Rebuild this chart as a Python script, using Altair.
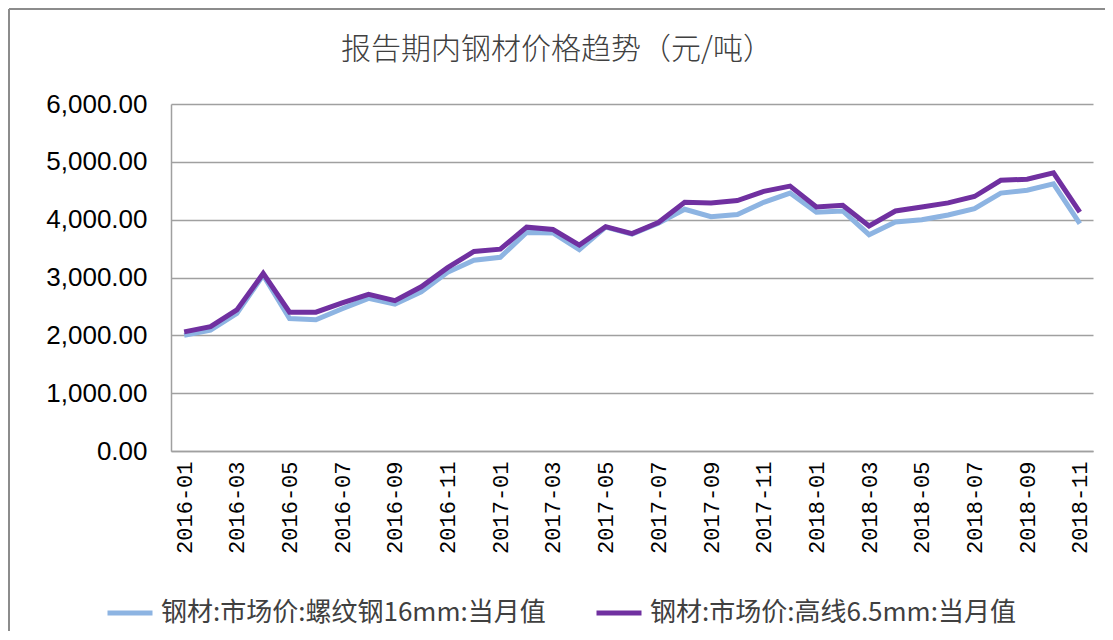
import altair as alt
import pandas as pd

months = [
    "2016-01", "2016-02", "2016-03", "2016-04", "2016-05", "2016-06", "2016-07", "2016-08", "2016-09", "2016-10", "2016-11", "2016-12",
    "2017-01", "2017-02", "2017-03", "2017-04", "2017-05", "2017-06", "2017-07", "2017-08", "2017-09", "2017-10", "2017-11", "2017-12",
    "2018-01", "2018-02", "2018-03", "2018-04", "2018-05", "2018-06", "2018-07", "2018-08", "2018-09", "2018-10", "2018-11",
]
rebar = [
    2000, 2090, 2380, 3040, 2290, 2270, 2460, 2640, 2540, 2750, 3090, 3300,
    3350, 3780, 3770, 3480, 3870, 3750, 3940, 4180, 4050, 4090, 4300, 4460,
    4130, 4150, 3740, 3960, 4000, 4080, 4190, 4460, 4510, 4620, 3930,
]
wire = [
    2060, 2150, 2440, 3070, 2400, 2400, 2560, 2710, 2600, 2840, 3170, 3450,
    3490, 3870, 3830, 3560, 3880, 3760, 3950, 4300, 4290, 4330, 4490, 4580,
    4220, 4250, 3890, 4150, 4220, 4290, 4400, 4680, 4700, 4810, 4130,
]
series_names = ["钢材:市场价:螺纹钢16mm:当月值", "钢材:市场价:高线6.5mm:当月值"]
series_colors = ["#8DB4E2", "#7030A0"]
tick_labels = months[::2]
title_text = "报告期内钢材价格趋势（元/吨）"

rows = []
for m, v in zip(months, rebar):
    rows.append({"month": m, "value": v, "series": series_names[0], "order": 0})
for m, v in zip(months, wire):
    rows.append({"month": m, "value": v, "series": series_names[1], "order": 1})
df = pd.DataFrame(rows)

lines = alt.Chart(df).mark_line(strokeWidth=5, strokeJoin="miter").encode(
    x=alt.X("month:O", sort=months,
            scale=alt.Scale(type="point", padding=0.5),
            axis=alt.Axis(title=None, values=tick_labels, labelAngle=270, labelAlign="right",
                          labelBaseline="middle", labelPadding=10, ticks=False,
                          labelFont="Liberation Mono", labelFontSize=22, labelColor="#000000",
                          domainColor="#A0A0A0", domainWidth=1.5, grid=False)),
    y=alt.Y("value:Q", scale=alt.Scale(domain=[0, 6000], nice=False),
            axis=alt.Axis(title=None, values=[0, 1000, 2000, 3000, 4000, 5000, 6000], format=",.2f",
                          ticks=False, labelPadding=24, labelFont="Liberation Sans", labelFontSize=26,
                          labelColor="#000000", domainColor="#A0A0A0", domainWidth=1.5,
                          gridColor="#A0A0A0", gridWidth=1.5)),
    color=alt.Color("series:N", sort=series_names,
                    scale=alt.Scale(domain=series_names, range=series_colors),
                    legend=alt.Legend(title=None, orient="none", direction="horizontal",
                                      legendX=-66, legendY=484, symbolType="stroke",
                                      symbolSize=2025, symbolStrokeWidth=5, labelFont="Noto Sans CJK SC",
                                      labelFontSize=26, labelColor="#404040", labelLimit=600,
                                      labelOffset=6, columnPadding=40)),
    order=alt.Order("order:Q"),
)

frame_top = alt.Chart(alt.Data(values=[{}])).mark_rule(stroke="#8C8C8C", strokeWidth=2).encode(
    x=alt.value(-162), x2=alt.value(960), y=alt.value(-95)
)
frame_left = alt.Chart(alt.Data(values=[{}])).mark_rule(stroke="#8C8C8C", strokeWidth=2).encode(
    x=alt.value(-162), y=alt.value(-95), y2=alt.value(560)
)

title = alt.Chart(alt.Data(values=[{}])).mark_text(
    font="Noto Sans CJK SC", fontSize=30, fontWeight=300, color="#404040",
    align="center", baseline="middle"
).encode(x=alt.value(386), y=alt.value(-54), text=alt.value(title_text))

chart = alt.layer(lines, frame_top, frame_left, title).properties(
    width=922, height=347,
    autosize=alt.AutoSizeParams(type="none"),
    padding={"left": 163, "top": 96, "right": 12, "bottom": 180},
).configure_view(stroke=None)

chart.save("out.html", embed_options={"renderer": "svg", "actions": False})
